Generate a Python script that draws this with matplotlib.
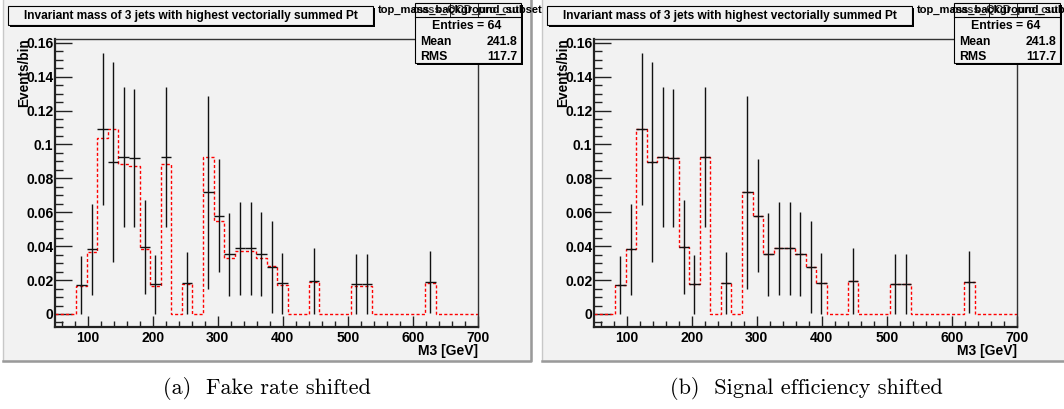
import numpy as np
import matplotlib
matplotlib.use('Agg')
import matplotlib.pyplot as plt
from matplotlib.patches import Rectangle
from matplotlib.ticker import MultipleLocator, FuncFormatter

# histogram binning: 40 bins between 50 and 700 GeV
x_min, x_max, n_bins = 50, 700, 40

# data points (black) and their errors, one entry per bin
data_vals = [0, 0, 0.0171, 0.0381, 0.109, 0.0894, 0.0926, 0.092, 0.0395, 0.0175,
             0.0926, 0, 0.0185, 0, 0.0717, 0.058, 0.0352, 0.0387, 0.0387, 0.0354,
             0.0277, 0.0181, 0, 0, 0.0193, 0, 0, 0, 0.0177, 0.0177,
             0, 0, 0, 0, 0, 0.0187, 0, 0, 0, 0]
data_errs = [0, 0, 0.0171, 0.0268, 0.0447, 0.059, 0.0414, 0.0407, 0.028, 0.0173,
             0.0414, 0, 0.0183, 0, 0.057, 0.0332, 0.0246, 0.0275, 0.0275, 0.0246,
             0.0271, 0.0181, 0, 0, 0.0194, 0, 0, 0, 0.0175, 0.0175,
             0, 0, 0, 0, 0, 0.0184, 0, 0, 0, 0]

# shifted templates (red dashed)
fake_shift = [0, 0, 0.0165, 0.0368, 0.1036, 0.109, 0.0883, 0.0873, 0.0381, 0.0165,
              0.0883, 0, 0.0177, 0, 0.0926, 0.055, 0.0328, 0.0373, 0.0373, 0.0328,
              0.0283, 0.0171, 0, 0, 0.019, 0, 0, 0, 0.0167, 0.0167,
              0, 0, 0, 0, 0, 0.0181, 0, 0, 0, 0]
signal_shift = list(data_vals)

captions = ['(a)  Fake rate shifted', '(b)  Signal efficiency shifted']
hist_title = 'Invariant mass of 3 jets with highest vectorially summed Pt'
stat_names = ['Mean', 'RMS']
stat_values = ['241.8', '117.7']
n_entries = 64

W, H = 1064, 409
BG = '#f2f2f2'
FONT = 'Liberation Sans'

fig = plt.figure(figsize=(W / 100, H / 100), dpi=100)
fig.patch.set_facecolor('white')


def fx(x):
    return x / W


def fy(y):
    return 1 - y / H


def frect(x0, y0, x1, y1, **kw):
    r = Rectangle((fx(x0), fy(y1)), (x1 - x0) / W, (y1 - y0) / H,
                  transform=fig.transFigure, **kw)
    fig.add_artist(r)
    return r


def fline(xs, ys, **kw):
    fig.add_artist(plt.Line2D([fx(x) for x in xs], [fy(y) for y in ys],
                              transform=fig.transFigure, **kw))


def draw_panel(dx, red_vals, caption):
    # ROOT canvas
    frect(3 + dx, -2, 531 + dx, 361, facecolor=BG, edgecolor='#c8c8c8', lw=1, zorder=0)
    fline([3 + dx, 531 + dx, 531 + dx], [361, 361, -2], color='#9a9a9a', lw=1.8, zorder=0.5)

    ax = fig.add_axes([fx(55 + dx), fy(326.7), 423 / W, 287.4 / H])
    ax.set_facecolor(BG)
    edges = np.linspace(x_min, x_max, n_bins + 1)
    centers = 0.5 * (edges[:-1] + edges[1:])
    half = 0.5 * (edges[1] - edges[0])
    vals = np.array(data_vals)
    errs = np.array(data_errs)
    mask = vals > 0

    ax.stairs(red_vals, edges, color='red', lw=1.0, ls=(0, (2.2, 1.6)), baseline=None, zorder=2)
    ax.errorbar(centers[mask], vals[mask], yerr=errs[mask], xerr=half,
                fmt='none', ecolor='#111111', elinewidth=1, capsize=0, zorder=3)

    ax.set_xlim(x_min, x_max)
    ax.set_ylim(-0.0075, 0.162)
    ax.xaxis.set_major_locator(MultipleLocator(100))
    ax.xaxis.set_minor_locator(MultipleLocator(20))
    ax.yaxis.set_major_locator(MultipleLocator(0.02))
    ax.yaxis.set_minor_locator(MultipleLocator(0.005))
    ax.yaxis.set_major_formatter(FuncFormatter(lambda v, p: '%g' % round(v, 3)))
    ax.tick_params(which='both', direction='in', top=False, right=False, width=1, color='#222222')
    ax.tick_params(axis='y', which='major', length=12, pad=1.2)
    ax.tick_params(axis='y', which='minor', length=6)
    ax.tick_params(axis='x', which='major', length=8, pad=3)
    ax.tick_params(axis='x', which='minor', length=4)
    for lab in ax.get_xticklabels() + ax.get_yticklabels():
        lab.set_fontfamily(FONT)
        lab.set_fontweight('bold')
        lab.set_fontsize(10)
    for side in ['top', 'right']:
        ax.spines[side].set_linewidth(1.0)
        ax.spines[side].set_color('#333333')
    for side in ['left', 'bottom']:
        ax.spines[side].set_linewidth(1.6)
        ax.spines[side].set_color('#222222')

    fig.text(fx(478 + dx), fy(351), 'M3 [GeV]', ha='right', va='center',
             fontsize=10, fontweight='bold', family=FONT)
    fig.text(fx(24 + dx), fy(38), 'Events/bin', rotation=90, ha='center', va='top',
             fontsize=9.8, fontweight='bold', family=FONT)

    # title box
    frect(10 + dx, 8, 375 + dx, 27, facecolor='black', edgecolor='none', zorder=4)
    frect(8 + dx, 6, 373 + dx, 25, facecolor=BG, edgecolor='black', lw=0.8, zorder=5)
    fig.text(fx(190.5 + dx), fy(15.5), hist_title, ha='center', va='center',
             fontsize=8.6, fontweight='bold', family=FONT, zorder=6)

    # stat box (several overlapping ROOT stat headers)
    frect(417 + dx, 5, 523 + dx, 65, facecolor='black', edgecolor='none', zorder=4)
    frect(415 + dx, 3, 521 + dx, 63, facecolor=BG, edgecolor='black', lw=0.8, zorder=5)
    fline([415 + dx, 521 + dx], [17, 17], color='black', lw=0.8, zorder=6)
    for xv in [450, 478]:
        fline([xv + dx, xv + dx], [3, 17], color='black', lw=0.6, zorder=6)
    fig.text(fx(378 + dx), fy(10), 'top_mass_background_subset', ha='left', va='center',
             fontsize=8, fontweight='bold', family=FONT, zorder=7)
    fig.text(fx(412 + dx), fy(10), 'mass_QCD_pro_cut', ha='left', va='center',
             fontsize=8, fontweight='bold', family=FONT, zorder=7, alpha=0.8)
    fig.text(fx(467 + dx), fy(26), 'Entries = %d' % n_entries, ha='center', va='center',
             fontsize=8.8, fontweight='bold', family=FONT, zorder=7)
    for i, (nm, vv) in enumerate(zip(stat_names, stat_values)):
        yy = 42 + 15 * i
        fig.text(fx(420 + dx), fy(yy), nm, ha='left', va='center',
                 fontsize=8.8, fontweight='bold', family=FONT, zorder=7)
        fig.text(fx(517 + dx), fy(yy), vv, ha='right', va='center',
                 fontsize=8.8, fontweight='bold', family=FONT, zorder=7)

    fig.text(fx(267 + dx), fy(389), caption, ha='center', va='center',
             fontsize=16, family=['cmr10', 'DejaVu Serif'])


draw_panel(0, fake_shift, captions[0])
draw_panel(539, signal_shift, captions[1])

fig.savefig('out.png', dpi=100, facecolor='white')
